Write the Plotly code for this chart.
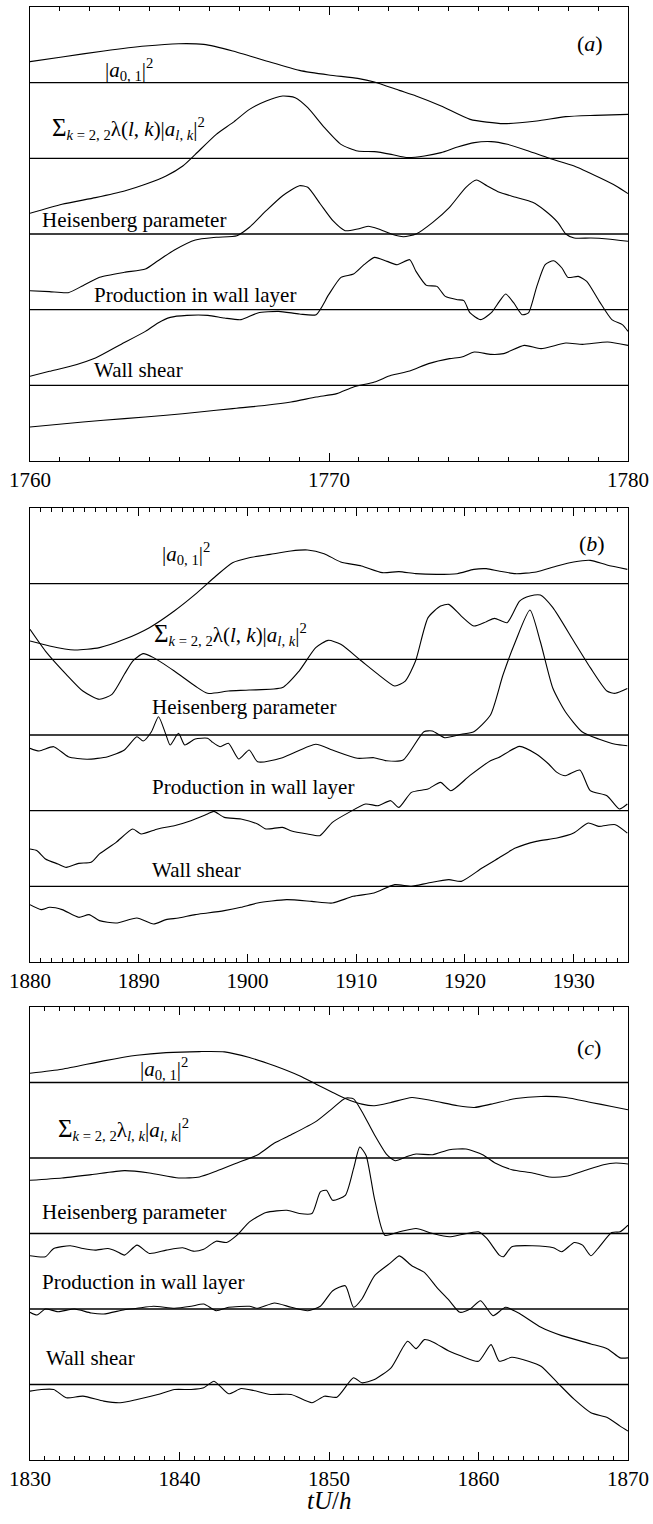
import plotly.graph_objects as go

# ---------------------------------------------------------------------------
# Records versus time tU/h.  Each record is a deviation (arbitrary units)
# about its own horizontal reference line; records are stacked in a panel.
# ---------------------------------------------------------------------------

# ---- panel (a) -----------------------------------------------------------
a_a01_t = [1760.00, 1761.07, 1762.47, 1763.86, 1764.97, 1765.81, 1766.78, 1767.90, 1769.01, 1769.99,
           1770.96, 1771.52, 1772.35, 1772.91, 1773.75, 1774.72, 1775.84, 1776.95, 1777.92, 1778.90, 1780.00]
a_a01_v = [21.0, 25.7, 31.7, 36.7, 39.0, 38.3, 31.7, 21.7, 12.3, 7.7,
           4.3, 0.7, -7.7, -13.3, -23.3, -36.7, -41.0, -38.3, -34.0, -32.7, -31.7]

a_sig_t = [1760.00, 1761.07, 1762.19, 1763.16, 1763.86, 1764.55, 1765.11, 1765.53, 1766.23, 1766.78,
           1767.34, 1767.90, 1768.45, 1768.87, 1769.29, 1769.85, 1770.40, 1770.96, 1771.52, 1772.08,
           1772.63, 1773.19, 1773.75, 1774.30, 1774.86, 1775.42, 1775.97, 1776.67, 1777.37, 1778.20,
           1779.04, 1779.60, 1780.00]
a_sig_v = [-55.0, -46.0, -39.3, -32.7, -26.0, -17.7, -7.7, 4.0, 24.0, 35.7,
           49.0, 57.3, 62.3, 60.7, 50.7, 30.7, 14.0, 7.3, 6.7, 4.0,
           0.7, 2.3, 5.7, 11.3, 15.7, 16.7, 14.0, 7.3, 0.0, -7.7,
           -19.3, -27.7, -35.3]

a_heis_t = [1760.00, 1760.65, 1761.28, 1761.77, 1762.33, 1763.16, 1763.86, 1764.28, 1764.83, 1765.53,
            1766.23, 1766.92, 1767.34, 1767.90, 1768.45, 1769.01, 1769.29, 1769.71, 1770.13, 1770.54,
            1770.96, 1771.31, 1771.66, 1772.08, 1772.49, 1772.91, 1773.47, 1774.03, 1774.58, 1774.93,
            1775.28, 1775.70, 1776.25, 1776.81, 1777.23, 1777.65, 1777.92, 1778.20, 1778.76, 1779.32,
            1780.00]
a_heis_v = [-56.7, -57.7, -58.7, -51.7, -43.3, -38.3, -35.0, -26.7, -16.0, -6.0,
            -3.3, -1.7, 6.7, 23.3, 38.3, 48.3, 46.7, 30.0, 13.3, 3.3,
            5.0, 7.7, 5.0, 0.0, -2.7, 0.0, 11.7, 26.7, 46.7, 54.0,
            48.3, 41.7, 36.7, 31.7, 23.3, 11.7, 0.0, -4.0, -4.0, -5.0,
            -7.3]

a_prod_t = [1760.00, 1760.65, 1761.35, 1762.19, 1763.02, 1763.86, 1764.28, 1764.69, 1765.25, 1765.95,
            1766.50, 1767.06, 1767.62, 1768.31, 1769.01, 1769.57, 1769.99, 1770.40, 1770.82, 1771.17,
            1771.52, 1771.94, 1772.28, 1772.70, 1772.91, 1773.26, 1773.61, 1773.89, 1774.30, 1774.51,
            1774.72, 1775.07, 1775.42, 1775.70, 1775.91, 1776.18, 1776.46, 1776.67, 1776.95, 1777.23,
            1777.51, 1777.79, 1777.99, 1778.34, 1778.62, 1779.04, 1779.46, 1779.81, 1780.00]
a_prod_v = [-66.7, -61.7, -56.7, -48.3, -35.0, -21.7, -13.3, -7.7, -5.7, -5.7,
            -8.3, -10.0, -3.3, -1.7, -4.3, -5.0, 15.0, 32.3, 35.7, 45.0,
            52.3, 48.3, 45.0, 50.0, 38.3, 24.3, 23.3, 13.3, 10.0, 9.0,
            -3.3, -10.0, -3.3, 8.3, 15.7, 6.7, -5.0, -3.3, 23.3, 45.0,
            49.0, 41.7, 32.3, 33.3, 28.3, 8.3, -10.0, -15.0, -21.7]

a_wall_t = [1760.00, 1761.77, 1763.16, 1764.55, 1765.67, 1766.78, 1767.90, 1768.73, 1769.57, 1770.26,
            1770.82, 1771.52, 1772.08, 1772.70, 1773.33, 1774.03, 1774.44, 1774.86, 1775.42, 1775.84,
            1776.53, 1777.09, 1777.92, 1778.48, 1779.32, 1780.00]
a_wall_v = [-41.7, -36.7, -33.3, -30.0, -26.7, -23.3, -20.0, -16.7, -11.7, -8.3,
            -1.7, 3.3, 10.0, 14.3, 21.7, 26.7, 28.3, 33.3, 31.0, 31.7,
            40.0, 36.7, 42.3, 41.0, 43.3, 40.0]

# ---- panel (b) -----------------------------------------------------------
b_a01_t = [1880.00, 1881.80, 1884.09, 1886.39, 1888.68, 1890.98, 1893.27, 1895.19, 1897.10, 1898.63,
           1900.16, 1902.07, 1903.99, 1905.52, 1907.05, 1908.58, 1910.49, 1912.40, 1913.93, 1915.46,
           1917.38, 1919.29, 1920.82, 1921.97, 1923.11, 1924.64, 1926.56, 1928.47, 1930.00, 1931.53,
           1933.06, 1934.94]
b_a01_v = [-57.3, -62.3, -66.3, -64.0, -55.7, -44.0, -27.3, -10.7, 7.7, 21.0,
           26.0, 29.3, 32.7, 33.7, 30.0, 21.7, 17.7, 11.0, 12.0, 10.0,
           9.3, 10.0, 14.3, 15.0, 12.7, 10.0, 11.7, 17.7, 21.7, 23.3,
           18.7, 14.3]

b_sig_t = [1880.00, 1881.42, 1883.33, 1884.86, 1886.39, 1887.54, 1888.68, 1889.45, 1890.41, 1891.36,
           1893.27, 1895.19, 1896.33, 1898.25, 1900.16, 1903.22, 1904.75, 1906.28, 1907.43, 1908.58,
           1910.49, 1912.02, 1913.55, 1914.51, 1915.46, 1916.61, 1917.76, 1918.52, 1919.67, 1920.82,
           1921.97, 1922.73, 1923.88, 1925.03, 1925.98, 1926.94, 1928.09, 1930.00, 1931.53, 1933.06,
           1933.83, 1934.94]
b_sig_v = [30.0, 8.3, -15.0, -31.7, -40.0, -35.0, -15.0, -1.7, 5.7, 1.7,
           -11.7, -26.7, -34.0, -31.7, -30.7, -28.3, -11.7, 11.7, 19.0, 15.0,
           -1.7, -15.0, -26.7, -21.7, -1.7, 41.7, 53.3, 55.0, 43.3, 33.3,
           37.7, 41.0, 36.7, 58.3, 63.3, 64.3, 51.7, 18.3, -8.3, -31.7,
           -34.0, -29.3]

b_heis_t = [1880.00, 1880.84, 1882.18, 1883.52, 1885.24, 1887.15, 1888.68, 1889.83, 1890.41, 1891.17,
            1891.82, 1892.51, 1892.89, 1893.66, 1894.23, 1895.19, 1896.33, 1896.72, 1897.48, 1898.25,
            1899.20, 1900.16, 1900.93, 1903.22, 1906.28, 1907.81, 1910.11, 1911.64, 1912.78, 1914.32,
            1916.23, 1917.00, 1918.14, 1919.67, 1920.82, 1922.35, 1923.50, 1924.64, 1925.98, 1926.94,
            1928.09, 1929.24, 1930.77, 1932.30, 1933.83, 1934.94]
b_heis_v = [-13.3, -16.0, -11.7, -21.7, -24.3, -21.7, -15.0, -1.7, -6.0, 3.3,
            18.3, 0.0, -10.0, 1.7, -10.0, -4.0, -3.3, -6.7, -11.7, -8.3,
            -24.0, -15.0, -26.7, -22.7, -9.3, -15.0, -23.3, -22.7, -25.7, -25.0,
            3.3, 4.0, -2.7, 0.7, 3.3, 20.0, 60.0, 93.3, 125.0, 93.3,
            46.7, 23.3, 3.3, -4.0, -9.3, -10.7]

b_prod_t = [1880.00, 1880.65, 1881.42, 1882.56, 1883.33, 1884.48, 1885.62, 1886.39, 1887.92, 1889.45,
            1890.21, 1891.74, 1893.27, 1894.80, 1896.33, 1896.91, 1897.87, 1899.40, 1900.93, 1901.69,
            1903.22, 1903.99, 1905.52, 1906.66, 1907.81, 1909.34, 1910.87, 1912.02, 1913.17, 1913.93,
            1915.08, 1916.61, 1917.76, 1918.71, 1920.44, 1922.35, 1923.11, 1925.03, 1926.56, 1927.70,
            1928.47, 1929.24, 1930.57, 1931.53, 1933.06, 1934.21, 1934.94]
b_prod_v = [-38.3, -40.0, -48.3, -53.3, -56.7, -52.7, -51.7, -43.3, -31.7, -18.3,
            -23.3, -18.3, -15.0, -10.0, -3.3, -0.7, -6.7, -8.3, -13.3, -18.3,
            -16.7, -20.0, -23.3, -25.0, -11.7, -1.7, 6.7, 5.0, 10.0, 3.3,
            18.3, 21.7, 28.3, 20.0, 35.0, 50.0, 53.3, 64.3, 56.7, 46.7,
            38.3, 35.0, 40.7, 20.0, 15.0, 1.7, 6.7]

b_wall_t = [1880.00, 1881.03, 1881.80, 1882.95, 1884.48, 1885.43, 1886.39, 1887.92, 1889.83, 1891.36,
            1892.51, 1893.66, 1895.19, 1896.33, 1897.87, 1899.40, 1900.93, 1903.60, 1905.90, 1907.81,
            1909.72, 1911.64, 1913.55, 1915.08, 1916.61, 1918.52, 1919.67, 1921.58, 1923.11, 1924.64,
            1926.56, 1928.47, 1930.00, 1931.34, 1932.30, 1933.83, 1934.94]
b_wall_v = [-18.3, -23.3, -21.0, -23.3, -31.0, -28.3, -34.3, -36.7, -31.7, -37.7,
            -33.3, -31.7, -28.3, -26.7, -24.3, -21.0, -16.7, -13.3, -15.0, -16.7,
            -10.0, -6.7, 1.7, 0.0, 3.3, 6.7, 5.0, 18.3, 28.3, 38.3,
            45.0, 48.3, 53.3, 63.3, 60.0, 61.7, 53.3]

# ---- panel (c) -----------------------------------------------------------
c_a01_t = [1830.00, 1832.14, 1834.93, 1837.16, 1839.11, 1841.34, 1843.01, 1844.68, 1846.35, 1848.02,
           1849.14, 1850.25, 1851.09, 1852.20, 1853.04, 1854.15, 1855.54, 1856.94, 1858.61, 1859.72,
           1860.84, 1862.51, 1864.18, 1865.85, 1867.52, 1868.91, 1870.00]
c_a01_v = [9.3, 13.3, 21.7, 27.3, 30.0, 31.0, 30.7, 25.0, 16.7, 6.7,
           -1.7, -10.0, -16.0, -21.7, -23.3, -20.0, -15.0, -18.3, -23.3, -25.0,
           -21.7, -16.0, -14.0, -15.0, -20.0, -24.0, -27.3]

c_sig_t = [1830.00, 1832.14, 1834.09, 1836.32, 1837.99, 1839.94, 1841.34, 1842.45, 1843.85, 1845.24,
           1846.35, 1847.47, 1849.14, 1850.25, 1851.09, 1851.64, 1852.20, 1853.04, 1853.87, 1854.43,
           1855.26, 1855.82, 1856.94, 1858.05, 1859.16, 1860.28, 1861.11, 1862.23, 1863.62, 1864.74,
           1865.85, 1866.96, 1868.36, 1869.19, 1870.00]
c_sig_v = [-22.3, -20.0, -16.7, -12.7, -15.0, -20.0, -19.0, -13.3, -5.0, 3.3,
           15.0, 23.3, 36.7, 50.0, 60.0, 59.3, 46.7, 23.3, 3.3, -2.7,
           1.7, 4.0, 3.3, 8.3, 9.0, 3.3, -5.0, -11.7, -15.0, -19.0,
           -18.3, -13.3, -6.7, -5.0, -6.0]

c_heis_t = [1830.00, 1831.03, 1831.59, 1832.70, 1833.54, 1834.37, 1835.21, 1835.77, 1836.32, 1837.16,
            1837.99, 1839.11, 1840.22, 1840.92, 1841.62, 1842.45, 1843.15, 1843.85, 1844.68, 1845.79,
            1847.19, 1848.02, 1848.86, 1849.42, 1849.83, 1850.25, 1851.09, 1851.64, 1852.06, 1852.48,
            1853.04, 1853.73, 1854.71, 1855.82, 1856.94, 1858.05, 1858.89, 1860.00, 1860.56, 1861.39,
            1861.67, 1862.23, 1863.62, 1865.01, 1865.57, 1866.41, 1866.96, 1867.52, 1868.08, 1868.91,
            1869.47, 1870.00]
c_heis_v = [-22.3, -23.3, -15.0, -12.3, -15.0, -16.7, -15.0, -17.7, -21.7, -11.7,
            -20.0, -16.7, -14.3, -17.7, -15.7, -7.7, -9.0, -1.7, 11.7, 21.0,
            23.3, 20.0, 20.0, 41.7, 43.3, 33.3, 38.3, 65.0, 86.7, 78.3,
            35.0, -1.7, 1.7, 5.0, 0.0, -3.3, -1.0, 1.7, -5.0, -21.7,
            -23.3, -13.3, -12.3, -14.3, -18.3, -9.0, -11.7, -22.3, -13.3, 1.0,
            1.7, 8.3]

c_prod_t = [1830.00, 1830.47, 1831.03, 1831.87, 1832.98, 1834.09, 1834.93, 1836.32, 1837.16, 1838.27,
            1839.67, 1840.78, 1841.62, 1842.45, 1843.29, 1844.68, 1845.24, 1846.35, 1847.47, 1848.58,
            1849.42, 1850.25, 1851.09, 1851.64, 1852.20, 1853.04, 1854.15, 1854.71, 1855.54, 1856.38,
            1857.21, 1858.05, 1858.75, 1859.44, 1860.14, 1860.97, 1861.81, 1862.79, 1864.18, 1865.57,
            1867.52, 1868.64, 1869.47, 1870.00]
c_prod_v = [-3.3, -6.0, 0.0, -2.7, 0.0, -4.0, -5.0, -0.7, 0.7, 2.7,
            0.7, 2.7, 5.0, -1.7, 1.7, 2.7, 0.7, 6.0, 1.7, -1.7,
            2.7, 18.3, 23.3, 1.7, 10.0, 33.3, 46.7, 53.3, 43.3, 36.7,
            21.7, 8.3, -3.3, 0.0, 8.3, -6.7, 1.7, -5.0, -18.3, -26.7,
            -35.0, -40.0, -49.0, -49.0]

c_wall_t = [1830.00, 1830.75, 1831.59, 1832.42, 1833.54, 1834.93, 1836.04, 1837.16, 1838.55, 1839.67,
            1840.78, 1841.62, 1842.31, 1843.29, 1844.12, 1844.96, 1846.07, 1847.47, 1848.86, 1849.69,
            1850.53, 1851.64, 1852.20, 1853.04, 1854.15, 1855.26, 1855.82, 1856.38, 1856.94, 1858.05,
            1858.89, 1860.00, 1860.84, 1861.39, 1862.23, 1863.34, 1864.18, 1865.29, 1866.41, 1867.52,
            1868.64, 1869.47, 1870.00]
c_wall_v = [-6.7, -5.0, -5.0, -13.3, -11.7, -16.7, -18.3, -15.0, -10.0, -5.0,
            -5.0, -3.3, 3.3, -9.3, -4.0, -6.0, -10.0, -10.0, -18.3, -11.7,
            -12.7, 6.7, 1.7, 5.0, 16.7, 43.3, 36.0, 45.0, 42.7, 33.3,
            28.3, 23.3, 40.0, 23.3, 27.3, 23.3, 18.3, 1.7, -15.0, -28.3,
            -33.3, -41.7, -46.7]

# x ranges and labelled ticks of the three panels
x_ranges = [(1760, 1780), (1880, 1935), (1830, 1870)]
x_ticks = [[1760, 1770, 1780],
           [1880, 1890, 1900, 1910, 1920, 1930],
           [1830, 1840, 1850, 1860, 1870]]
panel_tags = ["a", "b", "c"]

# record labels (top to bottom in each panel)
A01 = "|<i>a</i><sub>0, 1</sub>|<sup>2</sup>"
SIG_AB = ("<span style='font-size:25px'>Σ</span><sub><i>k</i> = 2, 2</sub>"
          "λ(<i>l</i>, <i>k</i>)|<i>a</i><sub><i>l</i>, <i>k</i></sub>|<sup>2</sup>")
SIG_C = ("<span style='font-size:25px'>Σ</span><sub><i>k</i> = 2, 2</sub>"
         "λ<sub><i>l</i>, <i>k</i></sub>|<i>a</i><sub><i>l</i>, <i>k</i></sub>|<sup>2</sup>")
record_labels = [
    [A01, SIG_AB, "Heisenberg parameter", "Production in wall layer", "Wall shear"],
    [A01, SIG_AB, "Heisenberg parameter", "Production in wall layer", "Wall shear"],
    [A01, SIG_C, "Heisenberg parameter", "Production in wall layer", "Wall shear"],
]

records = [
    [(a_a01_t, a_a01_v), (a_sig_t, a_sig_v), (a_heis_t, a_heis_v), (a_prod_t, a_prod_v), (a_wall_t, a_wall_v)],
    [(b_a01_t, b_a01_v), (b_sig_t, b_sig_v), (b_heis_t, b_heis_v), (b_prod_t, b_prod_v), (b_wall_t, b_wall_v)],
    [(c_a01_t, c_a01_v), (c_sig_t, c_sig_v), (c_heis_t, c_heis_v), (c_prod_t, c_prod_v), (c_wall_t, c_wall_v)],
]

# ---------------------------------------------------------------------------
# layout (pixel based)
# ---------------------------------------------------------------------------
W, H = 653, 1524
STEP = 75.7                   # offset between stacked records
N_LEVELS = 6
X_LEFT, X_RIGHT = 30, 628
PANEL_PX = [(7, 461), (508, 962), (1007, 1460)]
# label anchor points (left x, centre y) in pixels
LABEL_PX = [
    [(103, 70), (50, 129), (40, 220), (92, 295), (92, 370)],
    [(160, 553), (152, 634), (150, 707), (150, 787), (150, 870)],
    [(138, 1068), (56, 1129), (40, 1212), (40, 1282), (44, 1358)],
]
TAG_PX = [(575, 43), (577, 543), (575, 1047)]

SERIF = "Liberation Serif, Times New Roman, serif"
INK = "black"


def fx(px):
    return px / W


def fy(py):
    return 1 - py / H


fig = go.Figure()
annotations = []
shapes = []

for p in range(3):
    sfx = "" if p == 0 else str(p + 1)
    xname, yname = "x" + sfx, "y" + sfx
    top, bottom = PANEL_PX[p]

    for i, (t, v) in enumerate(records[p]):
        level = N_LEVELS - 1 - i
        fig.add_trace(go.Scatter(
            x=t, y=[level * STEP + val for val in v],
            mode="lines", line=dict(color=INK, width=1.1, shape="spline", smoothing=0.6),
            xaxis=xname, yaxis=yname, showlegend=False, hoverinfo="skip"))
        shapes.append(dict(type="line", xref=xname + " domain", x0=0, x1=1,
                           yref=yname, y0=level * STEP, y1=level * STEP,
                           line=dict(color=INK, width=1.4), layer="above"))
        lx, ly = LABEL_PX[p][i]
        annotations.append(dict(x=fx(lx), y=fy(ly), xref="paper", yref="paper",
                                text=record_labels[p][i], showarrow=False,
                                xanchor="left", yanchor="middle",
                                font=dict(family=SERIF, size=21, color=INK)))

    tx, ty = TAG_PX[p]
    annotations.append(dict(x=fx(tx), y=fy(ty), xref="paper", yref="paper",
                            text="(<i>%s</i>)" % panel_tags[p], showarrow=False,
                            xanchor="left", yanchor="middle",
                            font=dict(family=SERIF, size=22, color=INK)))

    fig.layout["xaxis" + sfx] = dict(
        domain=[fx(X_LEFT), fx(X_RIGHT)], anchor=yname, range=list(x_ranges[p]),
        automargin=False,
        tickmode="array", tickvals=x_ticks[p], ticks="inside", ticklen=8,
        tickwidth=1, tickcolor=INK,
        minor=dict(ticks="inside", dtick=1, ticklen=4, tickwidth=1, tickcolor=INK, showgrid=False),
        showline=True, linecolor=INK, linewidth=1.3, mirror="ticks",
        showgrid=False, zeroline=False,
        tickfont=dict(family=SERIF, size=21, color=INK))
    fig.layout["yaxis" + sfx] = dict(
        domain=[fy(bottom), fy(top)], anchor=xname, range=[0, N_LEVELS * STEP],
        automargin=False,
        showline=True, linecolor=INK, linewidth=1.3, mirror=True,
        ticks="", showticklabels=False, showgrid=False, zeroline=False)

annotations.append(dict(x=fx((X_LEFT + X_RIGHT) / 2), y=fy(1500), xref="paper", yref="paper",
                        text="<i>tU</i>/<i>h</i>", showarrow=False,
                        xanchor="center", yanchor="middle",
                        font=dict(family=SERIF, size=25, color=INK)))

fig.update_layout(width=W, height=H, margin=dict(l=0, r=0, t=0, b=0, autoexpand=False),
                  paper_bgcolor="white", plot_bgcolor="white",
                  annotations=annotations, shapes=shapes)

fig.write_html("out.html")
